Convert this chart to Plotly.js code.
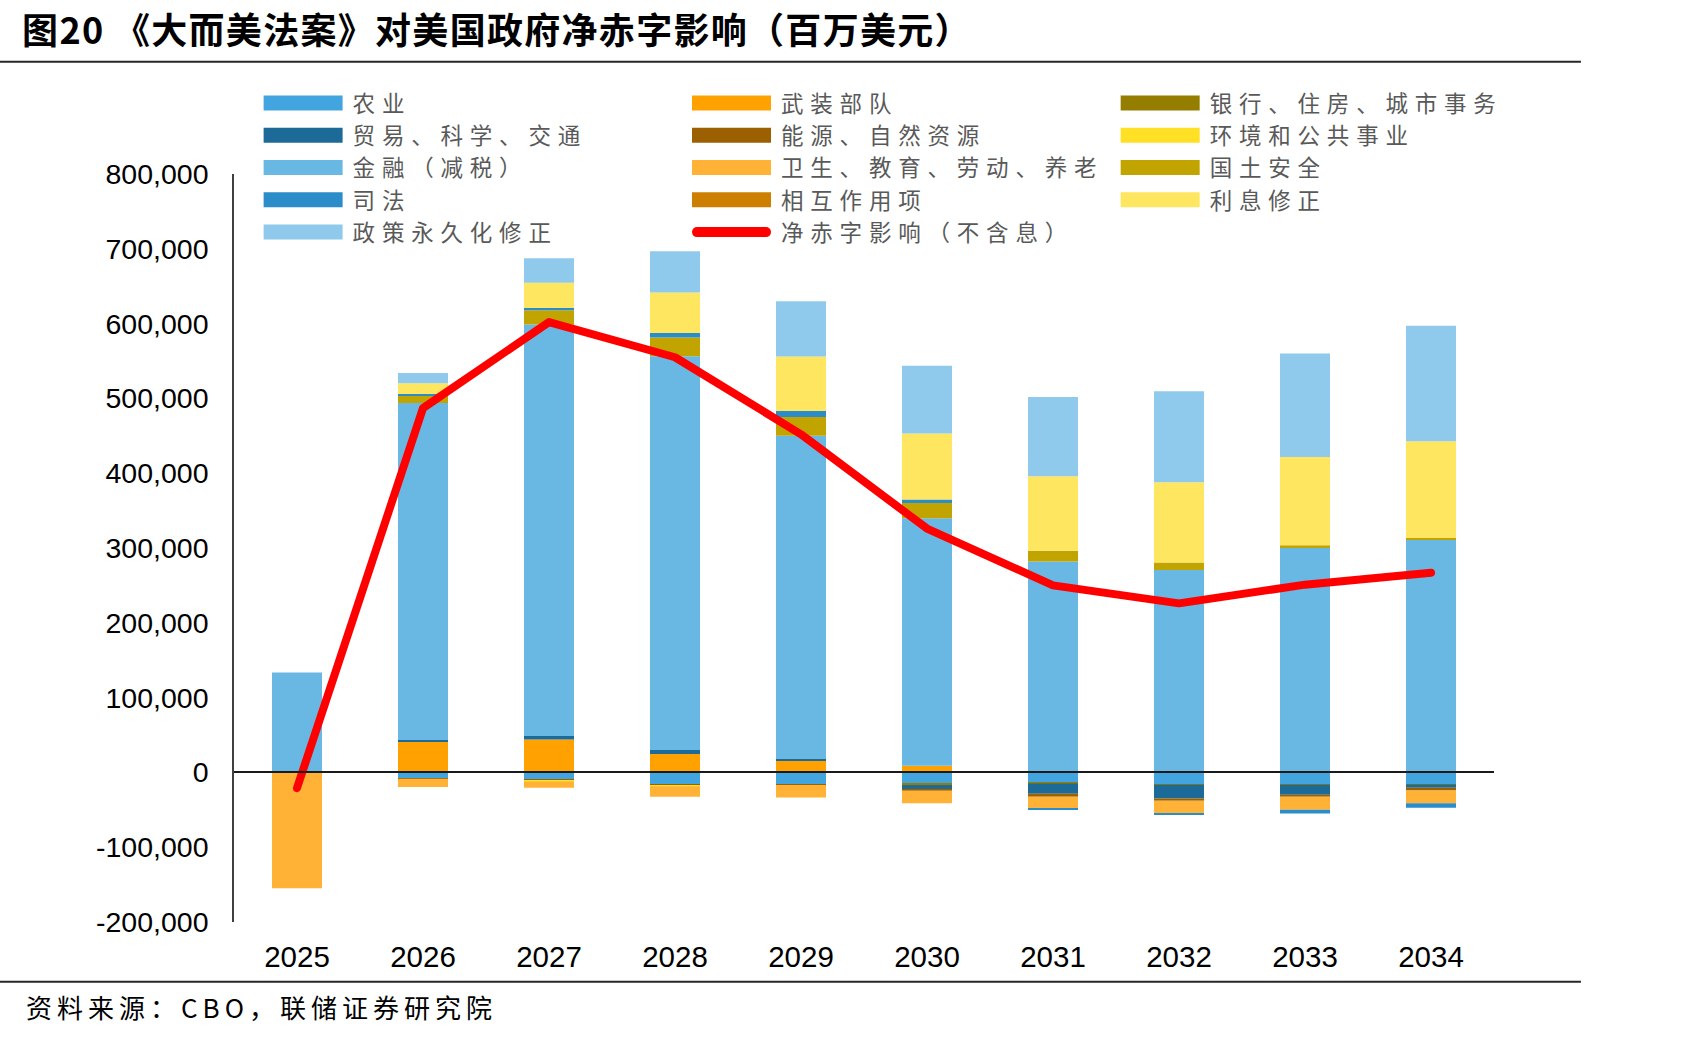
<!DOCTYPE html>
<html>
<head>
<meta charset="utf-8">
<script src="https://cdn.plot.ly/plotly-3.0.1.min.js"></script>
<style>
html,body{margin:0;padding:0;background:#fff;}
#chart{width:1701px;height:1037px;}
.scatterlayer .js-line{stroke-linecap:round;stroke-linejoin:round;}
.annotation-text{letter-spacing:5px;}
</style>
</head>
<body>
<div id="chart"></div>
<script>
// ---- data (millions of USD) ----
const years = ['2025','2026','2027','2028','2029','2030','2031','2032','2033','2034'];

const agriculture   = [0, -8000, -10000, -15600, -15600, -14700, -13000, -15600, -15600, -15600];
const armedServices = [0, 41000, 44000, 24500, 16500, 8800, 1500, 0, 0, 0];
const banking       = [0, 0, 0, 0, 0, -2000, -2000, -1000, -1000, -500];
const tradeScience  = [0, 2300, 4700, 5300, 1500, -5700, -13400, -18300, -13400, -4500];
const energy        = [0, -500, -500, -1300, -1300, -1900, -4000, -3000, -2700, -3600];
const environment   = [0, 0, -1500, -1500, 0, 0, 500, 0, 0, 0];
const finance       = [133500, 450600, 550000, 526600, 431900, 331000, 280000, 270600, 300100, 311700];
const healthLabor   = [-155000, -11000, -8500, -14200, -16500, -16900, -16500, -16900, -17400, -16900];
const homeland      = [0, 9600, 19100, 25100, 25100, 20300, 14300, 9900, 3600, 1800];
const judiciary     = [0, 2400, 2900, 5900, 8300, 4800, -800, -2000, -4900, -6200];
const interaction   = [0, 0, 0, 0, 0, 0, 0, 0, 0, 0];
const interestAdj   = [0, 14300, 34000, 54300, 72800, 88300, 99700, 107300, 118000, 129200];
const permanentAdj  = [0, 13600, 32700, 54900, 73900, 90600, 106000, 121600, 138200, 154500];
const netDeficit    = [-21000, 487000, 602000, 555000, 452000, 326000, 250000, 226000, 251000, 267000];

const seriesNames = ['农业','武装部队','银行、住房、城市事务','贸易、科学、交通','能源、自然资源','环境和公共事业',
  '金融（减税）','卫生、教育、劳动、养老','国土安全','司法','相互作用项','利息修正','政策永久化修正'];
const netName = '净赤字影响（不含息）';
const yTickVals = [-200000,-100000,0,100000,200000,300000,400000,500000,600000,700000,800000];
const yTickText = ['-200,000','-100,000','0','100,000','200,000','300,000','400,000','500,000','600,000','700,000','800,000'];

// ---- styles ----
const seriesValues = [agriculture, armedServices, banking, tradeScience, energy, environment,
  finance, healthLabor, homeland, judiciary, interaction, interestAdj, permanentAdj];
const seriesColors = ['#42A5DF','#FFA100','#957D00','#1B6A97','#9C6000','#FFE024',
  '#69B8E3','#FFB236','#C2A400','#2A8CC9','#CC7F00','#FFE660','#8FCAEC'];
const legendIds = ['legend','legend2','legend3'];

const traces = [];
seriesNames.forEach((name, i) => {
  traces.push({
    type: 'bar', x: years, y: seriesValues[i], name: name,
    marker: {color: seriesColors[i], line: {width: 0}},
    showlegend: false, legendgroup: 'g' + i,
    hovertemplate: name + ' %{x}: %{y:,}<extra></extra>'
  });
});
// legend entries (wide swatches like the original)
seriesNames.forEach((name, i) => {
  traces.push({
    type: 'scatter', mode: 'lines', x: [null], y: [null], name: name,
    line: {color: seriesColors[i], width: 15},
    legend: legendIds[i % 3], legendgroup: 'g' + i, hoverinfo: 'skip'
  });
});
traces.push({
  type: 'scatter', mode: 'lines', x: years, y: netDeficit, name: netName,
  line: {color: '#FF0000', width: 8}, legend: 'legend2',
  hovertemplate: netName + ' %{x}: %{y:,}<extra></extra>'
});

const cjk = '"Noto Sans CJK SC", "Noto Sans", sans-serif';
const num = 'Arial, "Liberation Sans", sans-serif';
const legendFont = {family: cjk, size: 22.5, color: '#595959'};
const legendBase = {
  orientation: 'v', xanchor: 'left', yanchor: 'top', y: 1.123,
  font: legendFont, itemwidth: 79, traceorder: 'normal',
  bgcolor: 'rgba(0,0,0,0)', borderwidth: 0, itemclick: false, itemdoubleclick: false
};

const layout = {
  width: 1701, height: 1037,
  margin: {l: 234, r: 207, t: 174, b: 115, autoexpand: false},
  paper_bgcolor: '#ffffff', plot_bgcolor: '#ffffff',
  barmode: 'relative', bargap: 0.603,
  title: {
    text: '<b>图20 《大而美法案》对美国政府净赤字影响（百万美元）</b>',
    font: {family: cjk, size: 36, color: '#000000'},
    xref: 'container', yref: 'container', x: 0.013, xanchor: 'left', y: 0.970, yanchor: 'middle'
  },
  xaxis: {
    type: 'category', range: [-0.5, 9.5], showline: false, ticks: '', showgrid: false, zeroline: false,
    tickfont: {family: num, size: 29.5, color: '#000000'}, ticklabelstandoff: 14, fixedrange: true
  },
  yaxis: {
    range: [-200000, 800000], tickvals: yTickVals, ticktext: yTickText,
    showgrid: false, showline: true, linecolor: '#404040', linewidth: 1.5, ticks: '',
    zeroline: true, zerolinecolor: '#1a1a1a', zerolinewidth: 2, zerolinelayer: 'above traces',
    tickfont: {family: num, size: 28.5, color: '#000000'}, ticklabelstandoff: 18, fixedrange: true
  },
  legend: Object.assign({}, legendBase, {x: 0.0235}),
  legend2: Object.assign({}, legendBase, {x: 0.3635}),
  legend3: Object.assign({}, legendBase, {x: 0.7037}),
  shapes: [
    {type: 'line', xref: 'paper', yref: 'paper', x0: -0.1857, x1: 1.069, y0: 1.150, y1: 1.150,
     line: {color: '#262626', width: 2}},
    {type: 'line', xref: 'paper', yref: 'paper', x0: -0.1857, x1: 1.069, y0: -0.0800, y1: -0.0800,
     line: {color: '#262626', width: 2}}
  ],
  annotations: [
    {text: '资料来源：CBO，联储证券研究院', xref: 'paper', yref: 'paper', x: -0.1667, y: -0.1132,
     xanchor: 'left', yanchor: 'middle', showarrow: false,
     font: {family: cjk, size: 26, color: '#000000'}}
  ],
  showlegend: true
};

function restyleDom() {
  // wide legend swatches and a round-capped red line, as in the original
  document.querySelectorAll('.infolayer .traces .js-line').forEach(p => {
    if (p.style.stroke === 'rgb(255, 0, 0)') {
      p.setAttribute('d', 'M5,0h69');
      p.style.strokeWidth = '10px';
      p.style.strokeLinecap = 'round';
    } else {
      p.setAttribute('d', 'M0,0h79');
      p.style.strokeWidth = '15px';
      p.style.strokeLinecap = 'butt';
    }
  });
  // the original legend font is widely spaced
  document.querySelectorAll('.infolayer .traces text').forEach(t => {
    t.style.letterSpacing = '6.8px';
  });
  document.querySelectorAll('.infolayer .scrollbox').forEach(s => s.removeAttribute('clip-path'));
  document.querySelectorAll('.infolayer .gtitle').forEach(t => { t.style.letterSpacing = '1.3px'; });
}

const gd = document.getElementById('chart');
Plotly.newPlot(gd, traces, layout, {displayModeBar: false}).then(() => {
  restyleDom();
  gd.on('plotly_afterplot', restyleDom);
});
</script>
</body>
</html>
